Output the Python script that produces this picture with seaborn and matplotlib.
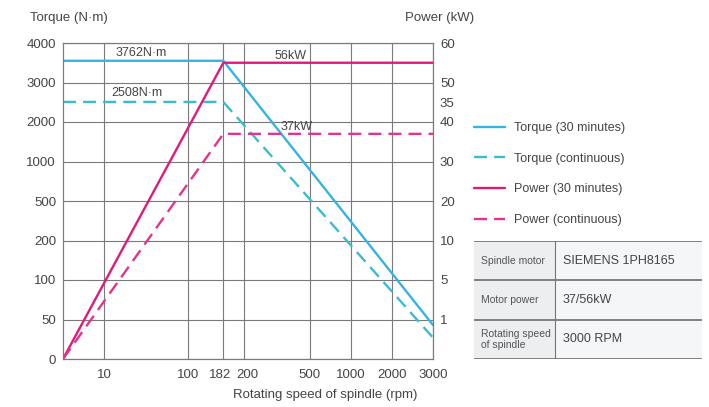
import numpy as np
import pandas as pd
import matplotlib
matplotlib.use("Agg")
import matplotlib.pyplot as plt
from matplotlib.lines import Line2D
from matplotlib.patches import Rectangle
from matplotlib.transforms import ScaledTranslation
import seaborn as sns

# curve data
rpm = [0, 182, 3000]
torque_30min = [3550, 3550, 43]
torque_cont = [2508, 2508, 27]
power_30min = [0, 55, 55]
power_cont = [0, 37, 37]

# the chart uses uneven, hand-spaced axes
x_ticks = [0, 10, 100, 182, 200, 500, 1000, 2000, 3000]
x_pos = [0, 1, 3.05, 3.9, 4.4, 6, 7, 8, 9]
torque_ticks = [0, 50, 100, 200, 500, 1000, 2000, 3000, 4000]
power_ticks = [0, 1, 5, 10, 20, 30, 40, 50, 60]
power_tick_vals = [1, 5, 10, 20, 30, 40, 45, 50, 60]
power_tick_labels = ["1", "5", "10", "20", "30", "40", "35", "50", "60"]

table_rows = [("Spindle motor", "SIEMENS 1PH8165"),
              ("Motor power", "37/56kW"),
              ("Rotating speed\nof spindle", "3000 RPM")]

c_blue = "#35b4e4"
c_blue2 = "#3cbad2"
c_mag = "#e01a7c"
c_mag2 = "#e4338a"
c_text = "#444444"
c_grid = "#7a7a7a"

sns.set_theme(style="white")
plt.rcParams["font.family"] = ["Liberation Sans", "DejaVu Sans"]

df_t = pd.DataFrame({"rpm": rpm * 2,
                     "val": torque_30min + torque_cont,
                     "curve": ["Torque (30 minutes)"] * 3 + ["Torque (continuous)"] * 3})
df_p = pd.DataFrame({"rpm": rpm * 2,
                     "val": power_30min + power_cont,
                     "curve": ["Power (30 minutes)"] * 3 + ["Power (continuous)"] * 3})


def scale_funcs(vals, pos):
    vals = np.asarray(vals, float)
    pos = np.asarray(pos, float)
    return (lambda v: np.interp(v, vals, pos), lambda p: np.interp(p, pos, vals))


fig = plt.figure(figsize=(7.09, 4.07), dpi=100)
ax = fig.add_axes([63 / 709, 48 / 407, 370 / 709, 316 / 407])
ax2 = ax.twinx()

dash = (5.5, 3)
sns.lineplot(data=df_t, x="rpm", y="val", hue="curve", style="curve",
             palette={"Torque (30 minutes)": c_blue, "Torque (continuous)": c_blue2},
             dashes={"Torque (30 minutes)": "", "Torque (continuous)": dash},
             estimator=None, sort=False, lw=1.7, legend=False, ax=ax)
sns.lineplot(data=df_p, x="rpm", y="val", hue="curve", style="curve",
             palette={"Power (30 minutes)": c_mag, "Power (continuous)": c_mag2},
             dashes={"Power (30 minutes)": "", "Power (continuous)": dash},
             estimator=None, sort=False, lw=1.7, legend=False, ax=ax2)

ax.set_xscale("function", functions=scale_funcs(x_ticks, x_pos))
ax.set_yscale("function", functions=scale_funcs(torque_ticks, range(9)))
ax2.set_yscale("function", functions=scale_funcs(power_ticks, range(9)))
ax.set_xlim(0, 3000)
ax.set_ylim(0, 4000)
ax2.set_ylim(0, 60)

ax.set_xticks(x_ticks[1:])
ax.set_xticklabels([str(v) for v in x_ticks[1:]])
ax.set_yticks(torque_ticks)
ax.set_yticklabels([str(v) for v in torque_ticks])
ax2.set_yticks(power_tick_vals)
ax2.set_yticklabels(power_tick_labels)
ax.xaxis.set_minor_locator(matplotlib.ticker.NullLocator())
ax.yaxis.set_minor_locator(matplotlib.ticker.NullLocator())
ax2.yaxis.set_minor_locator(matplotlib.ticker.NullLocator())

ax.grid(True, color=c_grid, lw=0.8)
ax2.grid(False)
ax.set_xlabel("")
ax.set_ylabel("")
ax2.set_ylabel("")
for a in (ax, ax2):
    a.tick_params(length=0, labelsize=9.5, labelcolor=c_text, pad=5)
    for s in a.spines.values():
        s.set_color(c_grid)
        s.set_linewidth(0.8)
ax.tick_params(axis="x", pad=7, labelsize=9.5)

# nudge the crowded 182 / 200 labels apart
for lab in ax.get_xticklabels():
    if lab.get_text() == "182":
        lab.set_transform(lab.get_transform() + ScaledTranslation(-3 / 100, 0, fig.dpi_scale_trans))
    elif lab.get_text() == "200":
        lab.set_transform(lab.get_transform() + ScaledTranslation(3 / 100, 0, fig.dpi_scale_trans))

# line labels
ax.text(0.21, 0.968, "3762N·m", transform=ax.transAxes, ha="center", va="center", fontsize=9, color=c_text)
ax.text(0.20, 0.842, "2508N·m", transform=ax.transAxes, ha="center", va="center", fontsize=9, color=c_text)
ax.text(0.616, 0.959, "56kW", transform=ax.transAxes, ha="center", va="center", fontsize=9, color=c_text)
ax.text(0.632, 0.735, "37kW", transform=ax.transAxes, ha="center", va="center", fontsize=9, color=c_text)

# axis titles
fig.text(30 / 709, 1 - 18 / 407, "Torque (N·m)", ha="left", va="center", fontsize=9.5, color=c_text)
fig.text(474 / 709, 1 - 18 / 407, "Power (kW)", ha="right", va="center", fontsize=9.5, color=c_text)
fig.text(325 / 709, 1 - 395 / 407, "Rotating speed of spindle (rpm)", ha="center", va="center",
         fontsize=9.5, color=c_text)

# legend
handles = [Line2D([], [], color=c_blue, lw=1.7),
           Line2D([], [], color=c_blue2, lw=1.7, dashes=dash),
           Line2D([], [], color=c_mag, lw=1.7),
           Line2D([], [], color=c_mag2, lw=1.7, dashes=dash)]
labels = ["Torque (30 minutes)", "Torque (continuous)", "Power (30 minutes)", "Power (continuous)"]
leg = fig.legend(handles, labels, loc="upper left", bbox_to_anchor=(474 / 709, 1 - 122 / 407),
                 frameon=False, fontsize=9, handlelength=2.5, handletextpad=0.7,
                 labelspacing=1.5, borderpad=0, borderaxespad=0)
for t in leg.get_texts():
    t.set_color(c_text)

# spec table
tax = fig.add_axes([474 / 709, 48 / 407, 228 / 709, 118 / 407])
tax.set_xlim(0, 228)
tax.set_ylim(118, 0)
tax.axis("off")
row_h = [39, 40, 39]
y0 = 0
for (k, v), h in zip(table_rows, row_h):
    tax.add_patch(Rectangle((0, y0), 81, h, facecolor="#eceef0", edgecolor="none"))
    tax.add_patch(Rectangle((81, y0), 147, h, facecolor="#f5f6f7", edgecolor="none"))
    tax.text(7, y0 + h / 2, k, ha="left", va="center", fontsize=7.5, color="#555555", linespacing=1.1)
    tax.text(89, y0 + h / 2, v, ha="left", va="center", fontsize=9, color=c_text)
    y0 += h
for yy in np.cumsum([0] + row_h):
    tax.axhline(yy, color="#777777", lw=1.3)
tax.plot([81, 81], [0, 118], color="#777777", lw=0.8)

fig.savefig("out.png", dpi=100, facecolor="white")
